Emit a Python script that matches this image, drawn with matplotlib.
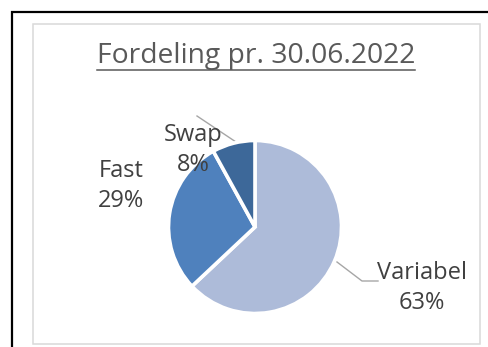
import matplotlib
matplotlib.use("Agg")
import matplotlib.pyplot as plt
from matplotlib.patches import Rectangle
from matplotlib.lines import Line2D

W, H = 489, 347
DPI = 100

# Data
labels = ["Variabel", "Fast", "Swap"]
shares = [63, 29, 8]
colors = ["#ADBBD9", "#4F81BD", "#3D6899"]
title = "Fordeling pr. 30.06.2022"

fig = plt.figure(figsize=(W / DPI, H / DPI), dpi=DPI)
fig.patch.set_facecolor("white")


def fx(px):
    return px / W


def fy(py):
    return 1 - py / H


# Outer black frame and inner light-grey chart area frame
fig.patches.append(Rectangle((fx(12), fy(400)), fx(600) - fx(12), fy(12) - fy(400),
                             transform=fig.transFigure, fill=False,
                             edgecolor="black", linewidth=1.6))
fig.patches.append(Rectangle((fx(33), fy(344)), fx(480) - fx(33), fy(24) - fy(344),
                             transform=fig.transFigure, fill=False,
                             edgecolor="#D9D9D9", linewidth=1.1))

# Pie axes: centre (255, 227), radius 86 px
cx, cy, r = 255, 227, 86.5
ax = fig.add_axes([fx(cx - r), fy(cy + r), 2 * r / W, 2 * r / H])

ax.pie(shares, colors=colors, startangle=90, counterclock=False, radius=1,
       wedgeprops=dict(edgecolor="white", linewidth=2.6))
ax.set_xlim(-1, 1)
ax.set_ylim(-1, 1)
ax.axis("off")


def dx(px):
    return (px - cx) / r


def dy(py):
    return (cy - py) / r


txt_color = "#404040"
font = "Open Sans"
fs = 17
ls = 1.38

# Leader lines
ax.add_line(Line2D([dx(337), dx(362), dx(378)], [dy(262), dy(281), dy(281)],
                   color="#A6A6A6", linewidth=1.0, clip_on=False))
ax.add_line(Line2D([dx(197), dx(236)], [dy(116), dy(142)],
                   color="#A6A6A6", linewidth=1.0, clip_on=False, zorder=0.5))

ax.text(dx(422), dy(288), f"{labels[0]}\n{shares[0]}%", ha="center", va="center",
        fontsize=fs, color=txt_color, family=font, linespacing=ls, clip_on=False)
ax.text(dx(121), dy(186), f"{labels[1]}\n{shares[1]}%", ha="center", va="center",
        fontsize=fs, color=txt_color, family=font, linespacing=ls, clip_on=False)
ax.text(dx(193), dy(150), f"{labels[2]}\n{shares[2]}%", ha="center", va="center",
        fontsize=fs, color=txt_color, family=font, linespacing=ls, clip_on=False)

# Underlined title
t = fig.text(fx(256), fy(56), title, ha="center", va="center", fontsize=20.3,
             color="#595959", family=font)
fig.canvas.draw()
bb = t.get_window_extent()
uy = fy(70)
fig.add_artist(Line2D([bb.x0 / W, bb.x1 / W], [uy, uy], transform=fig.transFigure,
                      color="#595959", linewidth=1.1))

fig.savefig("out.png", dpi=DPI)
